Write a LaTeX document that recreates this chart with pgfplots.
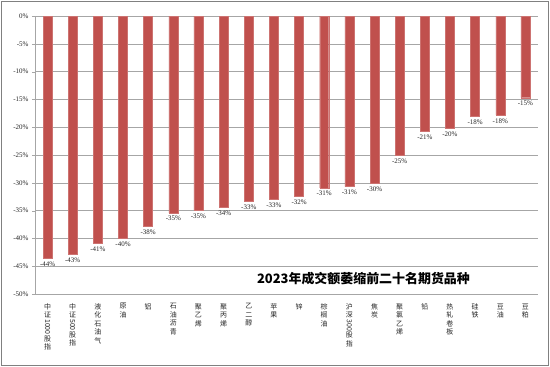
\documentclass[border=0pt]{standalone}
\usepackage{fontspec}
\usepackage{graphicx}
\usepackage{pgfplots}
\pgfplotsset{compat=1.18}
\setmainfont{Liberation Serif}
\newfontfamily\cjk{Noto Sans CJK SC}
\definecolor{barred}{HTML}{C0504D}
\definecolor{gridgray}{HTML}{A6A6A6}
\newcommand{\R}[1]{\rotatebox[origin=c]{-90}{#1}}
\begin{document}
\begin{tikzpicture}
\path[use as bounding box] (0,0) rectangle (550bp,367bp);
\draw[gray, line width=0.8bp] (1.5bp,1.5bp) rectangle (548.5bp,365.5bp);
\begin{axis}[
  at={(35bp,73bp)}, anchor=south west,
  scale only axis, width=503bp, height=278bp,
  ymin=-50, ymax=0, xmin=-0.5, xmax=19.5,
  ybar, bar width=9bp,
  axis y line*=left,
  axis line style={gridgray},
  ytick={0,-5,-10,-15,-20,-25,-30,-35,-40,-45,-50},
  yticklabels={0\%,-5\%,-10\%,-15\%,-20\%,-25\%,-30\%,-35\%,-40\%,-45\%,-50\%},
  yticklabel style={font=\fontsize{7}{8}\selectfont, text=black!85},
  ymajorgrids, grid style={gridgray, line width=0.6bp},
  ytick style={gridgray}, major tick length=3bp, tick align=outside,
  xtick={0,...,19}, xtick style={draw=none},
  xticklabels={
    {中\\证\\\R{1000}\\股\\指},
    {中\\证\\\R{500}\\股\\指},
    {液\\化\\石\\油\\气},
    {原\\油},
    {铝},
    {石\\油\\沥\\青},
    {聚\\乙\\烯},
    {聚\\丙\\烯},
    {乙\\二\\醇},
    {苹\\果},
    {锌},
    {棕\\榈\\油},
    {沪\\深\\\R{300}\\股\\指},
    {焦\\炭},
    {聚\\氯\\乙\\烯},
    {铅},
    {热\\轧\\卷\\板},
    {硅\\铁},
    {豆\\油},
    {豆\\粕}},
  xticklabel style={font=\cjk\fontsize{7}{8.5}\selectfont, align=center, anchor=north, yshift=-3bp, text=black!85},
  nodes near coords={\pgfmathprintnumber[fixed,precision=0,assume math mode=true]{\pgfplotspointmeta}\%},
  every node near coord/.append style={font=\fontsize{7}{8}\selectfont, text=black!85},
]
\addplot[fill=barred, draw=barred!80!white] coordinates {
(0,-43.6) (1,-42.8) (2,-40.9) (3,-40.0) (4,-37.8) (5,-35.4) (6,-34.9) (7,-34.4) (8,-33.3) (9,-33.0)
(10,-32.4) (11,-30.9) (12,-30.7) (13,-30.1) (14,-25.0) (15,-20.7) (16,-20.2) (17,-18.1) (18,-17.8) (19,-14.7)};
\node[font=\cjk\bfseries\fontsize{13}{13}\selectfont] at (axis cs:12.56,-47.3) {2023年成交额萎缩前二十名期货品种};
\end{axis}
\end{tikzpicture}
\end{document}
